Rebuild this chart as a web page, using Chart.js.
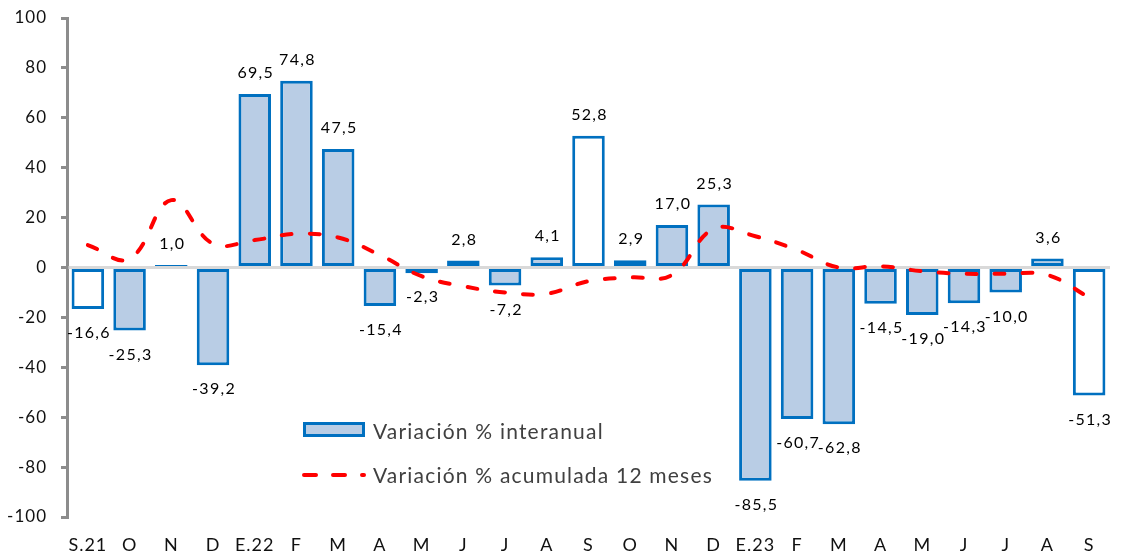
<!DOCTYPE html>
<html>
<head>
<meta charset="utf-8">
<script src="https://cdn.jsdelivr.net/npm/chart.js@4/dist/chart.umd.min.js"></script>
<style>
  html, body { margin: 0; padding: 0; background: #ffffff; }
  #wrap { width: 1125px; height: 555px; }
</style>
</head>
<body>
<div id="wrap"><canvas id="c" width="1125" height="555"></canvas></div>
<script>
const categories = ['S.21','O','N','D','E.22','F','M','A','M','J','J','A','S','O','N','D','E.23','F','M','A','M','J','J','A','S'];
const interanual = [-16.6,-25.3,1.0,-39.2,69.5,74.8,47.5,-15.4,-2.3,2.8,-7.2,4.1,52.8,2.9,17.0,25.3,-85.5,-60.7,-62.8,-14.5,-19.0,-14.3,-10.0,3.6,-51.3];
const acumulada = [9,3.5,27,9.5,11,13.5,12,5,-3.5,-7.5,-10,-10.5,-5.5,-4,-3,15.5,12.5,7,0,0.5,-1.5,-2.5,-2.5,-3,-12];
const yTicks = [-100,-80,-60,-40,-20,0,20,40,60,80,100];
const seriesNames = ['Variación % interanual', 'Variación % acumulada 12 meses'];

const BAR_BORDER = '#0070C0';
const BAR_FILL = '#B9CDE5';
const LINE_RED = '#FF0000';
const FONT = 'Lato';

function fmt(v) { return v.toFixed(1).replace('.', ','); }

const spacingPlugin = {
  id: 'spacing',
  beforeDraw(chart) { chart.ctx.letterSpacing = '1px'; }
};

const zeroLinePlugin = {
  id: 'zeroLine',
  afterDatasetDraw(chart, args) {
    if (args.index !== 0) return;
    const ctx = chart.ctx, a = chart.chartArea;
    const y0 = chart.scales.y.getPixelForValue(0);
    ctx.save();
    ctx.strokeStyle = '#D9D9D9';
    ctx.lineWidth = 3;
    ctx.beginPath();
    ctx.moveTo(a.left + 1.5, y0);
    ctx.lineTo(a.right, y0);
    ctx.stroke();
    ctx.restore();
  }
};

const valueLabelsPlugin = {
  id: 'valueLabels',
  afterDatasetsDraw(chart) {
    const ctx = chart.ctx;
    const meta = chart.getDatasetMeta(0);
    const data = chart.data.datasets[0].data;
    ctx.save();
    ctx.letterSpacing = '1.3px';
    ctx.font = '16px ' + FONT;
    ctx.fillStyle = '#000000';
    ctx.textAlign = 'center';
    ctx.textBaseline = 'middle';
    meta.data.forEach((el, i) => {
      const v = data[i];
      const y = v >= 0 ? el.y - 21 : el.y + 24;
      ctx.fillText(fmt(v), el.x + 1, y);
    });
    ctx.restore();
  }
};

const legendPlugin = {
  id: 'customLegend',
  afterDraw(chart) {
    const ctx = chart.ctx;
    ctx.save();
    ctx.fillStyle = BAR_FILL;
    ctx.strokeStyle = BAR_BORDER;
    ctx.lineWidth = 3;
    ctx.fillRect(304.5, 423.5, 59, 12);
    ctx.strokeRect(304.5, 423.5, 59, 12);
    ctx.strokeStyle = LINE_RED;
    ctx.lineWidth = 4;
    ctx.lineCap = 'round';
    ctx.setLineDash([12, 17]);
    ctx.beginPath();
    ctx.moveTo(304, 475);
    ctx.lineTo(364, 475);
    ctx.stroke();
    ctx.setLineDash([]);
    ctx.letterSpacing = '1.2px';
    ctx.font = '21px ' + FONT;
    ctx.fillStyle = '#404040';
    ctx.textAlign = 'left';
    ctx.textBaseline = 'middle';
    ctx.fillText(seriesNames[0], 373, 432);
    ctx.fillText(seriesNames[1], 373, 476);
    ctx.restore();
  }
};

new Chart(document.getElementById('c'), {
  data: {
    labels: categories,
    datasets: [
      {
        type: 'bar',
        label: seriesNames[0],
        data: interanual,
        backgroundColor: categories.map(c => c.startsWith('S') ? '#FFFFFF' : BAR_FILL),
        borderColor: BAR_BORDER,
        borderWidth: 3,
        borderSkipped: false,
        barPercentage: 0.78,
        categoryPercentage: 1.0,
        order: 1
      },
      {
        type: 'line',
        label: seriesNames[1],
        data: acumulada,
        borderColor: LINE_RED,
        borderWidth: 4,
        borderDash: [10, 18],
        borderCapStyle: 'round',
        tension: 0.4,
        pointRadius: 0,
        fill: false,
        order: 0
      }
    ]
  },
  options: {
    responsive: false,
    devicePixelRatio: 1,
    animation: false,
    layout: { padding: { top: 18, right: 15, left: 0, bottom: 0 } },
    plugins: { legend: { display: false }, tooltip: { enabled: false } },
    scales: {
      x: {
        grid: { display: false, drawTicks: false, tickLength: 0 },
        border: { display: false },
        ticks: { font: { family: FONT, size: 18 }, color: '#111111', padding: 17, maxRotation: 0, autoSkip: false },
        afterFit(s) { s.height = 38; s.paddingLeft = 0; s.paddingRight = 0; }
      },
      y: {
        min: -100, max: 100,
        afterBuildTicks(s) { s.ticks = yTicks.map(v => ({ value: v })); },
        ticks: { font: { family: FONT, size: 17 }, color: '#111111', padding: 14 },
        grid: { drawOnChartArea: false, drawTicks: true, tickLength: 6, color: '#8C8C8C', lineWidth: 3 },
        border: { display: true, color: '#8C8C8C', width: 3 },
        afterFit(s) { s.width = 67; s.paddingTop = 0; s.paddingBottom = 0; }
      }
    }
  },
  plugins: [spacingPlugin, zeroLinePlugin, valueLabelsPlugin, legendPlugin]
});
</script>
</body>
</html>
